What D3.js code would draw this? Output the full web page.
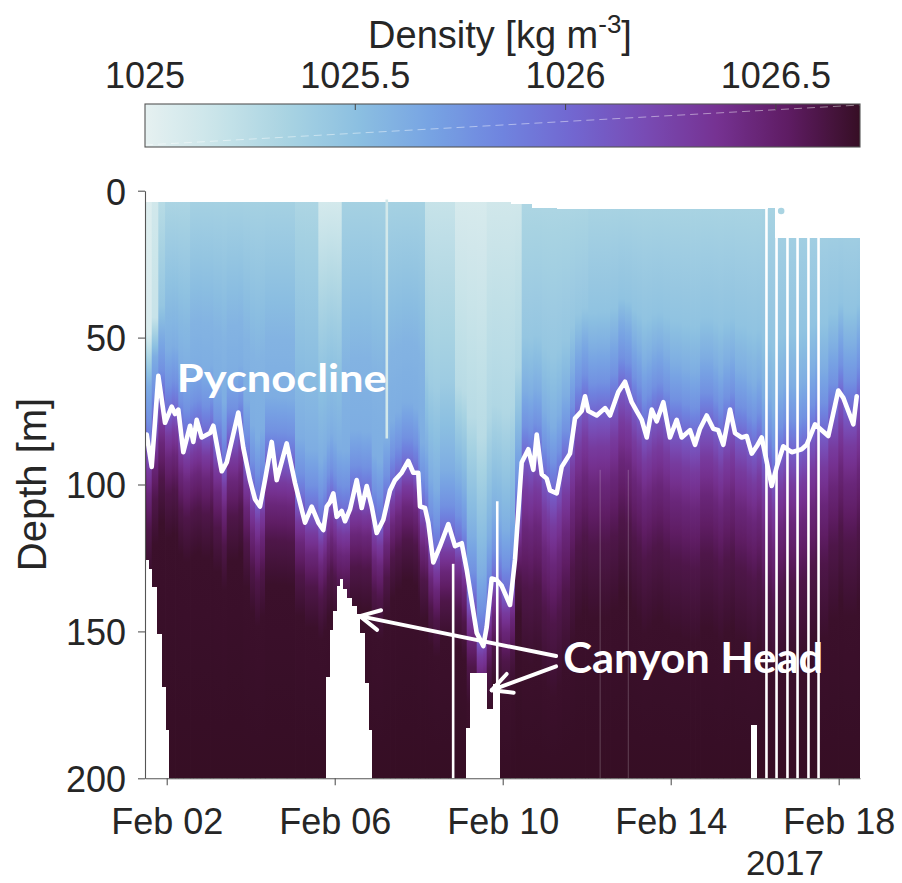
<!DOCTYPE html>
<html><head><meta charset="utf-8">
<script src="https://cdn.jsdelivr.net/npm/d3@7"></script>
<style>body{margin:0;background:#fff}svg{display:block}</style>
</head><body><svg id="chart" width="902" height="883"></svg>
<script>
// ---------------- DATA (times = day of February 2017, fractional) ----------------
const pycTime = [1.483,1.524,1.643,1.80,1.96,2.119,2.198,2.276,2.395,2.555,2.633,2.714,2.833,3.031,3.11,3.31,3.429,3.705,3.824,3.983,4.102,4.221,4.34,4.5,4.619,4.857,5.055,5.293,5.452,5.61,5.729,5.81,5.888,5.967,6.048,6.167,6.245,6.364,6.524,6.643,6.762,6.881,7.0,7.157,7.317,7.436,7.595,7.752,7.871,7.99,8.031,8.15,8.229,8.348,8.507,8.705,8.864,9.024,9.143,9.381,9.538,9.619,9.738,9.857,9.976,10.174,10.293,10.452,10.61,10.729,10.81,10.929,11.048,11.126,11.286,11.405,11.602,11.721,11.881,11.96,12.038,12.238,12.436,12.555,12.752,12.912,13.071,13.19,13.31,13.429,13.548,13.667,13.824,13.983,14.143,14.262,14.46,14.579,14.698,14.857,15.014,15.133,15.252,15.412,15.531,15.69,15.81,15.929,16.048,16.167,16.405,16.524,16.681,16.881,17.119,17.238,17.436,17.555,17.752,17.99,18.11,18.348,18.429];
const pycDepth = [84,83,94,63,79,73.5,76,74.5,89,80,85.5,78,84,82.5,80,95.5,92.5,75.5,87.5,98.5,105,107.5,98.5,85.5,98.5,86,99.5,113,107.5,113,115.5,107.5,106,103,111,109,112.5,108.5,98.5,108,100.5,107.5,116.5,112,102,98.5,96,92,96,96,107.5,108,113,126.5,121,113.5,121,120,129,150.5,155,148.5,132,132.5,134.5,141,125.5,92.5,88,95,83,96.5,98,102,103,94,89.5,77.5,75,70,75,76.5,74,76.5,68.5,65,72,75,78,84,74.5,78.5,72,84,78,84,81.5,86.5,81,76.5,81,81.5,86.5,74.5,82.5,84,83.5,89.5,87,84,100.5,94,87,89,88,86.5,79.5,81,83.5,68,70.5,79.5,70];

// water-column segments: start day, density near surface, density in the upper layer, thickness factor below pycnocline
const segStart = [1.483,1.62,1.80,2.0,2.5,5.0,5.66,6.2,8.15,8.8,9.6,10.4,12.0,16.2];
const segSurf  = [1025.05,1025.12,1025.24,1025.30,1025.34,1025.30,1025.08,1025.34,1025.17,1025.08,1025.12,1025.30,1025.32,1025.33];
const segUpper = [1025.08,1025.18,1025.45,1025.55,1025.58,1025.52,1025.48,1025.58,1025.40,1025.26,1025.30,1025.45,1025.48,1025.48];
const segBelow = [0.6,0.6,0.6,0.6,0.6,0.55,0.55,0.55,0.5,0.5,0.5,1.0,1.0,1.0];

// density structure around the pycnocline (offset in m from the pycnocline depth, density)
const pycOffset = [-22,-10,-3,3,12,25,45,70];
const pycRho    = [1025.62,1025.78,1025.95,1026.12,1026.30,1026.45,1026.60,1026.68];
const deepRho = 1026.70;

// shallowest sampled depth (start day, depth)
const topStart = [1.483,10.2,10.7,11.3,16.3,16.5];
const topDepth = [3.8,4.5,5.8,6.3,5.9,16];

// deepest sampled depth where profiles did not reach 200 m (start, end, depth)
const botStart = [1.483,1.562,1.643,1.762,1.881,1.96,5.805,5.888,5.96,6.055,6.143,6.19,6.286,6.405,6.507,6.602,6.705,6.8,9.143,9.238,9.619,9.776,15.93];
const botEnd   = [1.562,1.643,1.762,1.881,1.96,2.038,5.888,5.96,6.055,6.143,6.19,6.286,6.405,6.507,6.602,6.705,6.8,6.881,9.238,9.619,9.776,9.919,16.04];
const botDepth = [125.6,128.9,135,151,169,183.7,165.6,149.5,143,134.7,132,135.7,138.6,141.5,144,150.5,167.5,183.6,183,164,176.5,168,181.7];

// gaps between profiles (day, top depth, bottom depth, kind)
const gapTime = [7.24,8.82,9.87,16.28,16.52,16.78,17.02,17.28,17.52];
const gapTop  = [3,127,105.7,5,5,5,5,5,5];
const gapBot  = [84,200,200,200,200,200,200,200,200];
const gapKind = ["light","white","white","white","white","white","white","white","white"];
const faintTime = [12.32,12.99];
const loneDot = {day:16.63, depth:6.9, rho:1025.33};

const depthTicks = [0,50,100,150,200];
const dayTicks = [2,6,10,14,18];
const cbarTicks = [1025,1025.5,1026,1026.5];
const cbarDomain = [1025,1026.7];

// colormap (cmocean "dense"-like)
const cmapColors = ["#e6f1f1","#c9e4e9","#a8d3e2","#8bbfe1","#77a3e3","#6f84df","#7266d0","#784bb4","#763292","#5e1c63","#360e24"];

// ---------------- SETUP ----------------
const svg = d3.select("#chart");
const FONT = "'Liberation Sans', Arial, Helvetica, sans-serif";
const INK = "#262626";
const toDate = d => new Date(Date.UTC(2017,1,1) + (d-1)*864e5);
const x = d3.scaleUtc().domain([toDate(1.483), toDate(18.507)]).range([145,860]);
const y = d3.scaleLinear().domain([0,200]).range([190.7,778.3]);
const X = d => x(toDate(d));
const color = d3.scaleLinear()
  .domain(cmapColors.map((c,i)=>cbarDomain[0]+(cbarDomain[1]-cbarDomain[0])*i/(cmapColors.length-1)))
  .range(cmapColors).interpolate(d3.interpolateRgb).clamp(true);

const defs = svg.append("defs");
const segIndex = d => Math.max(0, d3.bisectRight(segStart, d) - 1);

// ---------------- FIELD ----------------
const field = svg.append("g");
const bounds = pycTime.concat([18.507]);
for (let i = 0; i < bounds.length-1; i++) {
  const t0 = bounds[i], t1 = bounds[i+1];
  const P = i < pycDepth.length-1 ? (pycDepth[i]+pycDepth[i+1])/2 : pycDepth[i];
  const s = segIndex((t0+t1)/2);
  let st = [[0, segSurf[s]], [0.55*P, segUpper[s]]];
  pycOffset.forEach((o,k)=>{
    const d = P + (o>0 ? o*segBelow[s] : o);
    st.push([d, pycRho[k]]);
  });
  st.push([200, deepRho]);
  const clean = [];
  st.forEach(p=>{
    if (clean.length && p[0] <= clean[clean.length-1][0]) return;
    if (p[0] > 200) {
      const q = clean[clean.length-1];
      if (q[0] < 200) clean.push([200, q[1] + (p[1]-q[1])*(200-q[0])/(p[0]-q[0])]);
      return;
    }
    clean.push(p);
  });
  const gid = "col"+i;
  const g = defs.append("linearGradient").attr("id",gid)
    .attr("gradientUnits","userSpaceOnUse").attr("x1",0).attr("x2",0).attr("y1",y(0)).attr("y2",y(200));
  for (let k = 0; k < clean.length; k++) {
    if (k < clean.length-1) {
      const [d0,r0] = clean[k], [d1,r1] = clean[k+1];
      for (let j = 0; j < 4; j++) {
        const f = j/4, d = d0+(d1-d0)*f, r = r0+(r1-r0)*f;
        g.append("stop").attr("offset", d/200).attr("stop-color", color(r));
      }
    } else {
      g.append("stop").attr("offset", Math.min(1,clean[k][0]/200)).attr("stop-color", color(clean[k][1]));
    }
  }
  field.append("rect").attr("x", X(t0)).attr("y", y(0))
    .attr("width", Math.min(X(t1)-X(t0)+0.7, 860-X(t0))).attr("height", y(200)-y(0))
    .attr("fill", `url(#${gid})`);
}

// faint lines in deep water
faintTime.forEach(t=>{
  field.append("line").attr("x1",X(t)).attr("x2",X(t)).attr("y1",y(95)).attr("y2",y(200))
    .attr("stroke","#fff").attr("stroke-opacity",0.22).attr("stroke-width",1);
});

// top mask
const masks = field.append("g").attr("fill","#fff").attr("shape-rendering","crispEdges");
topStart.forEach((t,i)=>{
  const t1 = i < topStart.length-1 ? topStart[i+1] : 18.507;
  masks.append("rect").attr("x",X(t)-0.5).attr("y",y(0)-1).attr("width",X(t1)-X(t)+1.5)
    .attr("height",y(topDepth[i])-y(0)+1);
});
// bottom mask
botStart.forEach((t,i)=>{
  masks.append("rect").attr("x",X(t)-0.5).attr("y",y(botDepth[i])).attr("width",X(botEnd[i])-X(t)+1)
    .attr("height",y(200)-y(botDepth[i])+1);
});
// gaps
gapTime.forEach((t,i)=>{
  field.append("line").attr("x1",X(t)).attr("x2",X(t)).attr("y1",y(gapTop[i])).attr("y2",y(gapBot[i])+1)
    .attr("stroke", gapKind[i]==="light" ? "#d2e8ea" : "#fff").attr("stroke-width", 2.6);
});
field.append("circle").attr("cx",X(loneDot.day)).attr("cy",y(loneDot.depth)).attr("r",3.3)
  .attr("fill",color(loneDot.rho));

// ---------------- PYCNOCLINE ----------------
const line = d3.line().x((d,i)=>X(pycTime[i])).y(d=>y(d));
svg.append("path").attr("d", line(pycDepth)).attr("fill","none")
  .attr("stroke","#fff").attr("stroke-width",4.6).attr("stroke-linejoin","round").attr("stroke-linecap","round");

// ---------------- ANNOTATIONS ----------------
const annFont = "Lato, 'Open Sans', 'Noto Sans', sans-serif";
svg.append("text").attr("x",X(2.24)).attr("y",y(68.4)).text("Pycnocline")
  .attr("font-family",annFont).attr("font-weight",700).attr("font-size",39).attr("fill","#fff")
  .attr("textLength",210).attr("lengthAdjust","spacingAndGlyphs");
svg.append("text").attr("x",X(11.44)).attr("y",y(164.1)).text("Canyon Head")
  .attr("font-family",annFont).attr("font-weight",700).attr("font-size",42).attr("fill","#fff")
  .attr("textLength",260).attr("lengthAdjust","spacingAndGlyphs");

const arrows = [
  {from:[11.27,158.4], to:[6.60,144.8]},
  {from:[11.27,161.9], to:[9.74,170.0]}
];
const ag = svg.append("g").attr("stroke","#fff").attr("stroke-width",4).attr("stroke-linecap","round").attr("fill","none");
arrows.forEach(a=>{
  const x0=X(a.from[0]), y0=y(a.from[1]), x1=X(a.to[0]), y1=y(a.to[1]);
  ag.append("line").attr("x1",x0).attr("y1",y0).attr("x2",x1).attr("y2",y1);
  const ang = Math.atan2(y0-y1, x0-x1), L = 22, da = 27*Math.PI/180;
  [ang-da, ang+da].forEach(b=>{
    ag.append("line").attr("x1",x1).attr("y1",y1).attr("x2",x1+L*Math.cos(b)).attr("y2",y1+L*Math.sin(b));
  });
});

// ---------------- AXES ----------------
const yAxis = svg.append("g").attr("transform","translate(145,0)")
  .call(d3.axisLeft(y).tickValues(depthTicks).tickSize(7).tickSizeOuter(0).tickPadding(12));
const xAxis = svg.append("g").attr("transform",`translate(0,${y(200)})`)
  .call(d3.axisBottom(x).tickValues(dayTicks.map(toDate)).tickFormat(d3.utcFormat("%b %d")).tickSize(7).tickSizeOuter(0));
[yAxis,xAxis].forEach(a=>{
  a.select(".domain").attr("stroke","#555").attr("stroke-width",1.1);
  a.selectAll(".tick line").attr("stroke","#555").attr("stroke-width",1.1);
  a.selectAll("text").attr("font-family",FONT).attr("font-size",36).attr("fill",INK);
});
yAxis.selectAll("text").attr("dy","0.37em");
xAxis.selectAll("text").attr("y",56).attr("dy",0);

svg.append("text").attr("transform",`translate(46,${(y(0)+y(200))/2}) rotate(-90)`)
  .attr("text-anchor","middle").attr("font-family",FONT).attr("font-size",40).attr("fill",INK).text("Depth [m]");
svg.append("text").attr("x",785).attr("y",875).attr("text-anchor","middle")
  .attr("font-family",FONT).attr("font-size",35).attr("fill",INK).text("2017");

// ---------------- COLORBAR ----------------
const cb = d3.scaleLinear().domain(cbarDomain).range([145,860]);
const cbTop = 104, cbBot = 147;
const cg = defs.append("linearGradient").attr("id","cbar").attr("x1","0%").attr("x2","100%");
d3.range(0,1.0001,0.02).forEach(f=>{
  cg.append("stop").attr("offset",f).attr("stop-color",color(cbarDomain[0]+f*(cbarDomain[1]-cbarDomain[0])));
});
svg.append("rect").attr("x",cb(cbarDomain[0])).attr("y",cbTop).attr("width",cb(cbarDomain[1])-cb(cbarDomain[0]))
  .attr("height",cbBot-cbTop).attr("fill","url(#cbar)");
svg.append("line").attr("x1",cb(cbarDomain[0])).attr("y1",cbBot-2).attr("x2",cb(cbarDomain[1])).attr("y2",cbTop+1)
  .attr("stroke","#fff").attr("stroke-opacity",0.45).attr("stroke-width",1).attr("stroke-dasharray","8,5");
svg.append("rect").attr("x",cb(cbarDomain[0])).attr("y",cbTop).attr("width",cb(cbarDomain[1])-cb(cbarDomain[0]))
  .attr("height",cbBot-cbTop).attr("fill","none").attr("stroke","#555").attr("stroke-width",1.1);
cbarTicks.forEach(v=>{
  if (v > cbarDomain[0]) svg.append("line").attr("x1",cb(v)).attr("x2",cb(v)).attr("y1",cbTop).attr("y2",cbTop+6)
    .attr("stroke","#444").attr("stroke-width",1);
  svg.append("text").attr("x",cb(v)).attr("y",88).attr("text-anchor","middle")
    .attr("font-family",FONT).attr("font-size",36).attr("fill",INK).text(d3.format("")(v));
});
const title = svg.append("text").attr("x",500).attr("y",48).attr("text-anchor","middle")
  .attr("font-family",FONT).attr("font-size",38).attr("fill",INK);
title.append("tspan").text("Density [kg m");
title.append("tspan").attr("font-size",26).attr("dy",-15).text("-3");
title.append("tspan").attr("dy",15).text("]");
</script></body></html>
